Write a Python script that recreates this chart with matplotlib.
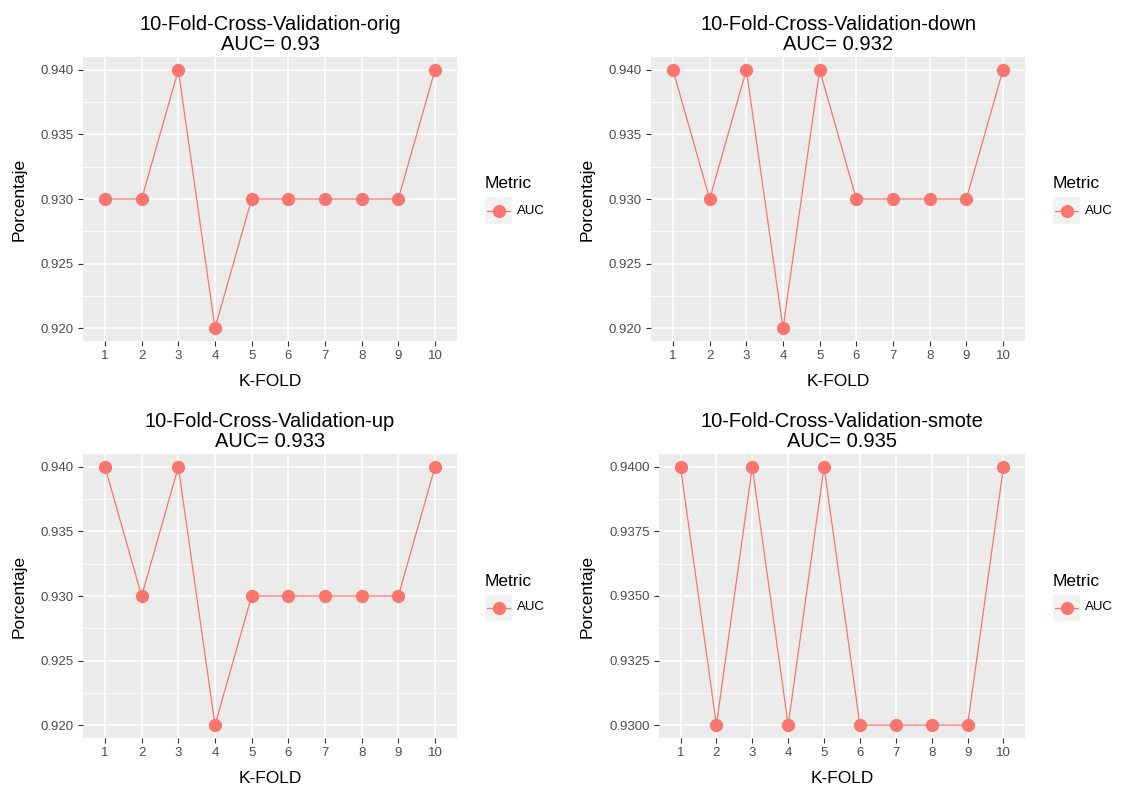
import matplotlib
matplotlib.use("Agg")
import matplotlib.pyplot as plt
from matplotlib.patches import Rectangle
from matplotlib.lines import Line2D
from matplotlib.ticker import MultipleLocator, FormatStrFormatter

plt.rcParams["font.family"] = ["Liberation Sans", "DejaVu Sans"]

# values
folds = [1, 2, 3, 4, 5, 6, 7, 8, 9, 10]
auc_orig = [0.93, 0.93, 0.94, 0.92, 0.93, 0.93, 0.93, 0.93, 0.93, 0.94]
auc_down = [0.94, 0.93, 0.94, 0.92, 0.94, 0.93, 0.93, 0.93, 0.93, 0.94]
auc_up = [0.94, 0.93, 0.94, 0.92, 0.93, 0.93, 0.93, 0.93, 0.93, 0.94]
auc_smote = [0.94, 0.93, 0.94, 0.93, 0.94, 0.93, 0.93, 0.93, 0.93, 0.94]
titles = ["10-Fold-Cross-Validation-orig\nAUC= 0.93",
          "10-Fold-Cross-Validation-down\nAUC= 0.932",
          "10-Fold-Cross-Validation-up\nAUC= 0.933",
          "10-Fold-Cross-Validation-smote\nAUC= 0.935"]

W, H = 1121, 789
RED = "#F8766D"
PANEL = "#EBEBEB"

fig = plt.figure(figsize=(W / 100, H / 100), dpi=100)


def px_box(x0, y0, x1, y1):
    # pixel box (top-left origin) -> figure fraction rect
    return [x0 / W, 1 - y1 / H, (x1 - x0) / W, (y1 - y0) / H]


def draw_legend(ax_right, ax_top, ax_bottom):
    cy = (ax_top + ax_bottom) / 2
    lx = ax_right + 28
    fig.text(lx / W, 1 - (cy - 15) / H, "Metric", fontsize=12.5,
             ha="left", va="center", color="black")
    kx0, ky0 = lx, cy - 1.5
    fig.patches.append(Rectangle((kx0 / W, 1 - (ky0 + 26) / H), 27 / W, 26 / H,
                                 transform=fig.transFigure, facecolor="#F2F2F2",
                                 edgecolor="none"))
    kyc = 1 - (ky0 + 13) / H
    fig.lines.append(Line2D([(kx0 + 2) / W, (kx0 + 25) / W], [kyc, kyc],
                            transform=fig.transFigure, color=RED, lw=0.9))
    fig.lines.append(Line2D([(kx0 + 13.5) / W], [kyc], transform=fig.transFigure,
                            color=RED, marker="o", markersize=8.5, lw=0))
    fig.text((kx0 + 32) / W, kyc, "AUC", fontsize=9.5, ha="left", va="center",
             color="black")


def panel(rect_px, values, title, fmt, step):
    ax = fig.add_axes(px_box(*rect_px))
    ax.set_facecolor(PANEL)
    ax.plot(folds, values, color=RED, lw=0.9, marker="o", markersize=8.5,
            zorder=3)
    lo, hi = min(values), max(values)
    pad = (hi - lo) * 0.05
    ax.set_ylim(lo - pad, hi + pad)
    ax.set_xlim(0.4, 10.6)
    ax.set_xticks(folds)
    ax.yaxis.set_major_locator(MultipleLocator(step))
    ax.yaxis.set_minor_locator(MultipleLocator(step / 2))
    ax.yaxis.set_major_formatter(FormatStrFormatter(fmt))
    ax.grid(True, which="major", color="white", lw=1.1)
    ax.grid(True, which="minor", axis="y", color="white", lw=0.55)
    ax.set_axisbelow(True)
    for s in ax.spines.values():
        s.set_visible(False)
    ax.tick_params(which="major", length=3.5, width=0.8, color="#333333",
                   labelcolor="#4D4D4D", labelsize=9.5, pad=3)
    ax.tick_params(which="minor", length=0)
    ax.set_title(title, fontsize=14.5, linespacing=1.1, pad=5)
    ax.set_xlabel("K-FOLD", fontsize=12.5, labelpad=8.5)
    ax.set_ylabel("Porcentaje", fontsize=12.5, labelpad=10.5)
    draw_legend(rect_px[2], rect_px[1], rect_px[3])
    return ax


panel((83, 57, 457, 341), auc_orig, titles[0], "%.3f", 0.005)
panel((651, 57, 1025, 341), auc_down, titles[1], "%.3f", 0.005)
panel((83, 454, 457, 738), auc_up, titles[2], "%.3f", 0.005)
panel((659, 454, 1025, 738), auc_smote, titles[3], "%.4f", 0.0025)

fig.savefig("out.png", dpi=100)
